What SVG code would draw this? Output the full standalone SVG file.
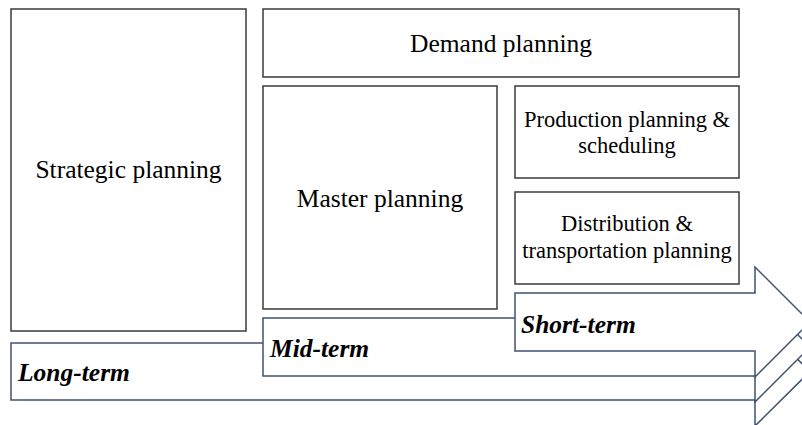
<svg xmlns="http://www.w3.org/2000/svg" width="802" height="425" viewBox="0 0 802 425">
<style>
.box{fill:#fff;stroke:#3a3a3a;stroke-width:1.5}
.arr{fill:#fff;stroke:#3f5173;stroke-width:1.5;stroke-linejoin:miter}
text{font-family:'Liberation Serif','Times New Roman',serif;fill:#000}
.t{text-anchor:middle}
.big{font-size:25.5px}
.small{font-size:22.5px}
.lbl{font-size:25.5px;font-weight:bold;font-style:italic}
</style>
<rect width="802" height="425" fill="#fff"/>
<g id="connectors">
<polygon id="long-term" class="arr" points="11,343 755,343 755,317 810,371.5 755,426 755,400 11,400"/>
<polygon id="mid-term" class="arr" points="263,318 755,318 755,292 810,347 755,402 755,376 263,376"/>
<polygon id="short-term" class="arr" points="515,293 755,293 755,267 810,322 755,377 755,351 515,351"/>
<text class="lbl" x="18" y="381">Long-term</text>
<text class="lbl" x="270" y="357">Mid-term</text>
<text class="lbl" x="521" y="333">Short-term</text>
</g>
<g id="strategic">
<rect class="box" x="11" y="9" width="235" height="322"/>
<text class="t big" x="128.5" y="178">Strategic planning</text>
</g>
<g id="demand">
<rect class="box" x="263" y="9" width="476" height="68"/>
<text class="t big" x="501" y="52">Demand planning</text>
</g>
<g id="master">
<rect class="box" x="263" y="86" width="234" height="223"/>
<text class="t big" x="380" y="207">Master planning</text>
</g>
<g id="production">
<rect class="box" x="515" y="86" width="224" height="92"/>
<text class="t small" x="627" y="127">Production planning &amp;</text>
<text class="t small" x="627" y="153">scheduling</text>
</g>
<g id="distribution">
<rect class="box" x="515" y="192" width="224" height="92"/>
<text class="t small" x="627" y="231">Distribution &amp;</text>
<text class="t small" x="627" y="258">transportation planning</text>
</g>
</svg>
